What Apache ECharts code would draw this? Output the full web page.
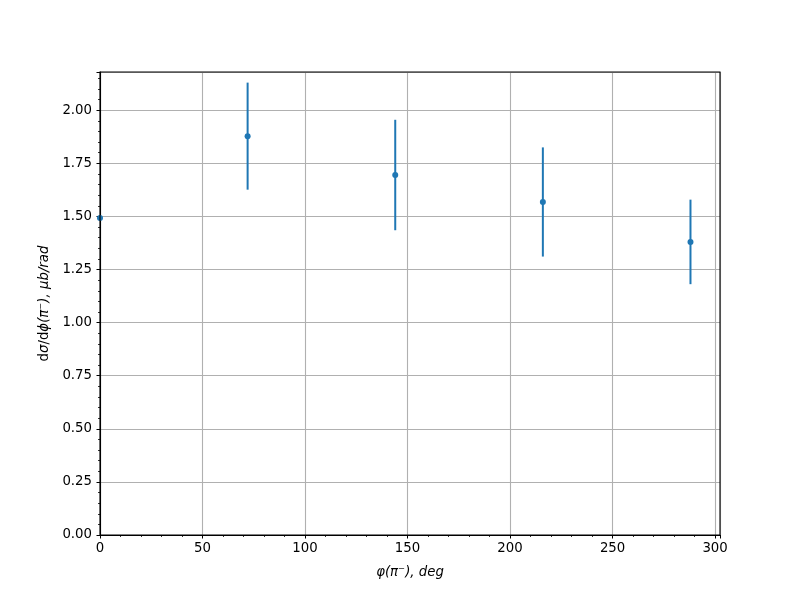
<!DOCTYPE html>
<html>
<head>
<meta charset="utf-8">
<script src="https://cdn.jsdelivr.net/npm/echarts@6/dist/echarts.min.js"></script>
<style>html,body{margin:0;padding:0;background:#fff}#c{width:800px;height:600px}</style>
</head>
<body>
<div id="c"></div>
<script>
const xValues = [0, 72, 144, 216, 288];
const yValues = [1.493, 1.878, 1.695, 1.568, 1.380];
const yErrors = [null, 0.252, 0.260, 0.257, 0.199];
const xTicks = [0, 50, 100, 150, 200, 250, 300];
const yTicks = [0, 0.25, 0.5, 0.75, 1.0, 1.25, 1.5, 1.75, 2.0];

const points = xValues.map((x, i) => [x, yValues[i]]);
const bars = xValues.map((x, i) => [x, yValues[i], yErrors[i]]).filter(d => d[2] !== null);

const FONT = 'DejaVu Sans';
const COLOR = '#1f77b4';

const chart = echarts.init(document.getElementById('c'), null, {renderer: 'canvas'});
chart.setOption({
  animation: false,
  backgroundColor: '#fff',
  grid: {left: 100, right: 80, top: 72, bottom: 65, show: true, borderColor: '#000', borderWidth: 1.1, z: 10},
  xAxis: {
    type: 'value', min: 0, max: 302.4, interval: 50,
    axisLine: {show: true, onZero: false, lineStyle: {color: '#000', width: 1.1}},
    axisTick: {show: true, length: 3.5, lineStyle: {color: '#000', width: 1}},
    minorTick: {show: true, splitNumber: 5, length: 2, lineStyle: {color: '#000', width: 0.8}},
    splitLine: {show: true, lineStyle: {color: '#b0b0b0', width: 1.1}},
    axisLabel: {
      color: '#000', fontFamily: FONT, fontSize: 13.3, margin: 7,
      showMaxLabel: true,
      formatter: v => xTicks.includes(v) ? String(v) : ''
    },
    name: '{i|φ(π⁻), deg}',
    nameLocation: 'middle', nameGap: 31,
    nameTextStyle: {color: '#000', fontFamily: FONT, fontSize: 13.3,
      rich: {i: {fontStyle: 'italic', fontFamily: FONT, fontSize: 13.3, color: '#000'}}}
  },
  yAxis: {
    type: 'value', min: 0, max: 2.18, interval: 0.25,
    axisLine: {show: true, onZero: false, lineStyle: {color: '#000', width: 1.1}},
    axisTick: {show: true, length: 3.5, lineStyle: {color: '#000', width: 1}},
    minorTick: {show: true, splitNumber: 5, length: 2, lineStyle: {color: '#000', width: 0.8}},
    splitLine: {show: true, lineStyle: {color: '#b0b0b0', width: 1.1}},
    axisLabel: {
      color: '#000', fontFamily: FONT, fontSize: 13.3, margin: 8,
      formatter: v => yTicks.some(t => Math.abs(t - v) < 1e-9) ? v.toFixed(2) : ''
    },
    name: '{r|d}{i|σ}{r|/d}{i|ϕ(π⁻), μb/rad}',
    nameLocation: 'middle', nameGap: 43, nameRotate: 90,
    nameTextStyle: {color: '#000', fontFamily: FONT, fontSize: 13.3,
      rich: {
        r: {fontFamily: FONT, fontSize: 13.3, color: '#000'},
        i: {fontStyle: 'italic', fontFamily: FONT, fontSize: 13.3, color: '#000'}
      }}
  },
  series: [
    {
      type: 'custom',
      clip: true,
      data: bars,
      renderItem: function (params, api) {
        const x = api.value(0), y = api.value(1), e = api.value(2);
        const p1 = api.coord([x, y - e]);
        const p2 = api.coord([x, y + e]);
        return {
          type: 'line',
          shape: {x1: p1[0], y1: p1[1], x2: p2[0], y2: p2[1]},
          style: {stroke: COLOR, lineWidth: 2, lineCap: 'butt'}
        };
      },
      z: 2
    },
    {
      type: 'scatter',
      data: points,
      symbol: 'circle',
      symbolSize: 6,
      clip: true,
      itemStyle: {color: COLOR, opacity: 1},
      z: 3
    }
  ]
});
</script>
</body>
</html>
